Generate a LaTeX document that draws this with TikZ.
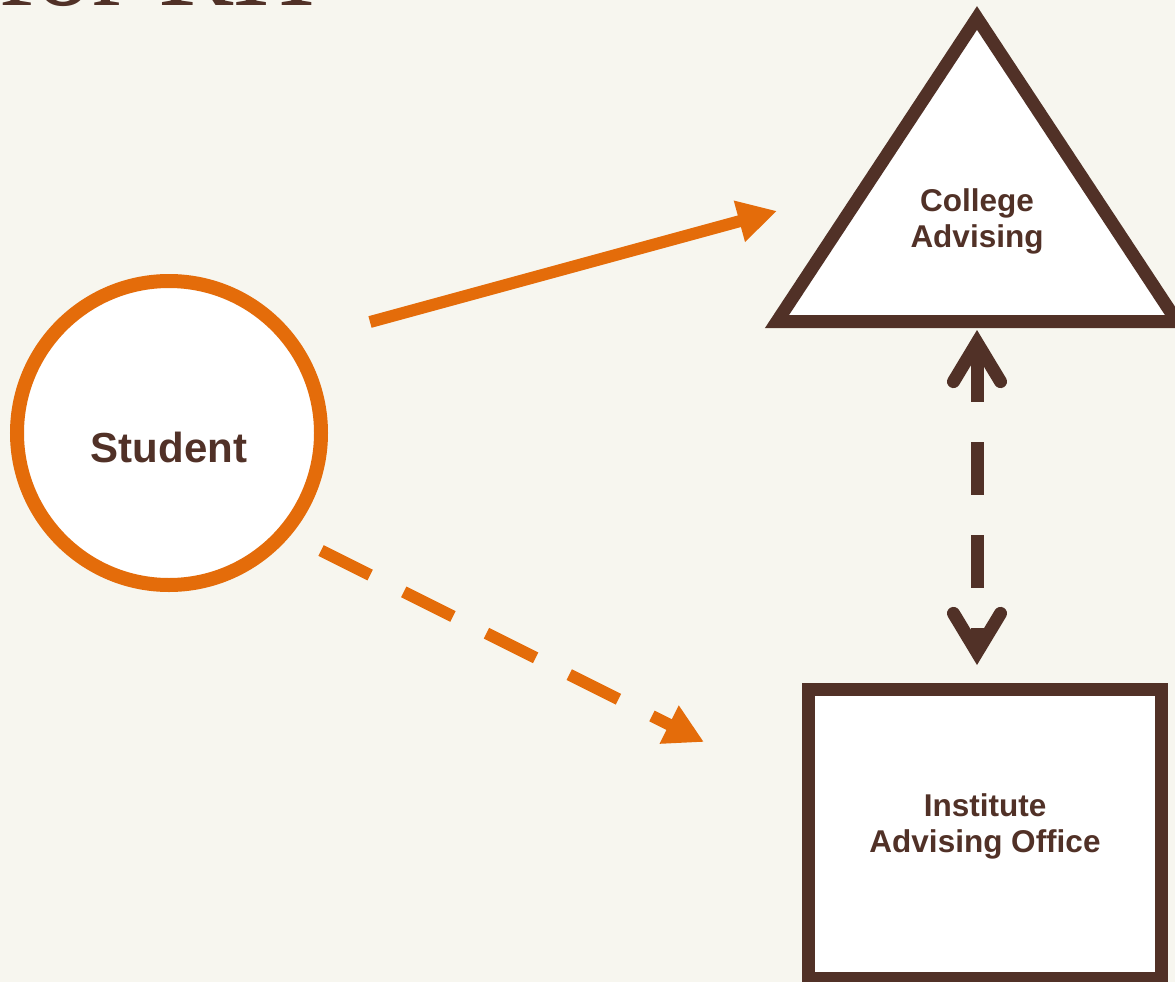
\documentclass[tikz,border=0pt]{standalone}
\usepackage{fontspec}
\setmainfont{Liberation Serif}
\setsansfont{Liberation Sans}
\usepackage{tikz}
\usetikzlibrary{arrows.meta}
\definecolor{rhbrown}{RGB}{81,49,39}
\definecolor{rhorange}{RGB}{228,108,10}
\definecolor{rhcream}{RGB}{247,246,239}
\newcommand{\lblfont}{\sffamily\bfseries\fontsize{31.5}{36}\selectfont}

\begin{document}
\begin{tikzpicture}[x=1pt,y=-1pt,
    lbl/.style={font=\lblfont,text=rhbrown,align=center,inner sep=0pt},
    link/.style={draw=rhorange,line width=12pt,-{Triangle[length=39pt,width=40pt]}},
    twoway/.style={draw=rhbrown,line width=13pt,dash pattern=on 53pt off 40pt,
      {Straight Barb[length=39pt,width=47pt,line cap=round]}-{Straight Barb[length=39pt,width=47pt,line cap=round]}}]
  \fill[rhcream] (0,0) rectangle (1175,982);
  \useasboundingbox (0,0) rectangle (1175,982);
  \clip (0,0) rectangle (1175,982);
  \node[anchor=base west,inner sep=0pt,text=rhbrown,font=\fontsize{113}{113}\selectfont] (title) at (-2,6) {for RH};
  \node[circle,draw=rhorange,line width=14pt,fill=white,minimum size=304pt,inner sep=0pt] (student) at (169,433) {};
  \node[lbl,font=\sffamily\bfseries\fontsize{42}{50}\selectfont,anchor=base] (studenttext) at (169,462) {Student};
  \draw[rhbrown,line width=13pt,fill=white] (977,18) -- (1177,321.5) -- (777,321.5) -- cycle;
  \node[lbl] (college) at (977,221.5) {College\\Advising};
  \node[rectangle,draw=rhbrown,line width=13pt,fill=white,minimum width=353pt,minimum height=289pt,inner sep=0pt] (institute) at (985,834) {};
  \node[lbl] (institutetext) at (985,826) {Institute\\Advising Office};
  \coordinate (s1) at (370,322);
  \coordinate (c1) at (777,211);
  \coordinate (s2) at (321,550.5);
  \coordinate (i1) at (704,742);
  \coordinate (c2) at (977,330);
  \coordinate (i2) at (977,665);
  \draw[link] (s1) -- (c1);
  \draw[link,dash pattern=on 55pt off 37.5pt] (s2) -- (i1);
  \draw[twoway] (c2) -- (i2);
\end{tikzpicture}
\end{document}
